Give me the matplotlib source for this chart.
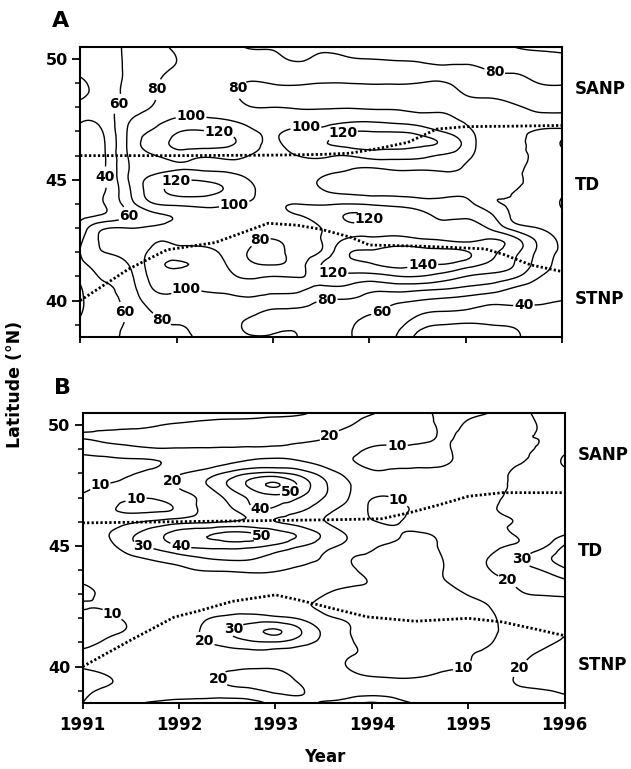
import numpy as np
import matplotlib
matplotlib.use("Agg")
import matplotlib.pyplot as plt
from matplotlib.tri import Triangulation, UniformTriRefiner
from matplotlib.ticker import MultipleLocator

plt.rcParams['font.family'] = 'DejaVu Sans'
plt.rcParams['font.weight'] = 'bold'

# grid of the contoured field: years (columns) and latitude (rows, top -> bottom)
years = [1991.0, 1991.25, 1991.5, 1991.75, 1992.0, 1992.25, 1992.5, 1992.75, 1993.0,
         1993.25, 1993.5, 1993.75, 1994.0, 1994.25, 1994.5, 1994.75, 1995.0,
         1995.25, 1995.5, 1995.75, 1996.0]
lats = [50.5, 50.0, 49.5, 49.0, 48.5, 48.0, 47.5, 47.0, 46.5, 46.0, 45.5, 45.0,
        44.5, 44.0, 43.5, 43.0, 42.5, 42.0, 41.5, 41.0, 40.5, 40.0, 39.5, 39.0, 38.5]

# panel A, one list per year column
panel_a_cols = [
    [48, 46, 44, 36, 37, 44, 42, 35, 30, 28, 27, 27, 27, 29, 35, 46, 56, 60, 55, 45, 38, 36, 38, 45, 50],
    [54, 53, 52, 50, 50, 52, 48, 42, 39, 38, 38, 38, 39, 40, 44, 78, 84, 80, 68, 62, 57, 55, 55, 57, 58],
    [63, 63, 63, 64, 65, 67, 77, 82, 83, 81, 79, 80, 76, 70, 60, 80, 88, 86, 80, 74, 70, 66, 62, 62, 63],
    [74, 74, 75, 77, 78, 81, 92, 102, 110, 98, 92, 106, 110, 98, 74, 84, 98, 104, 110, 106, 100, 90, 80, 76, 74],
    [82, 80, 82, 86, 88, 92, 102, 118, 124, 110, 98, 118, 125, 104, 82, 88, 98, 108, 122, 110, 102, 92, 84, 80, 77],
    [86, 86, 87, 88, 90, 93, 103, 122, 128, 104, 96, 118, 126, 106, 90, 90, 96, 106, 116, 108, 101, 93, 86, 83, 82],
    [86, 86, 87, 86, 86, 90, 100, 118, 124, 106, 96, 112, 118, 103, 92, 90, 92, 96, 101, 104, 102, 95, 86, 84, 83],
    [79, 84, 84, 79, 75, 81, 92, 105, 110, 100, 94, 100, 104, 98, 90, 88, 84, 79, 84, 98, 103, 97, 84, 78, 81],
    [78, 84, 86, 81, 72, 80, 88, 97, 97, 94, 92, 92, 93, 97, 96, 90, 79, 74, 79, 100, 103, 93, 76, 76, 81],
    [72, 78, 86, 82, 72, 78, 92, 104, 110, 100, 90, 86, 90, 100, 99, 92, 88, 86, 90, 99, 103, 90, 76, 77, 80],
    [74, 84, 86, 80, 72, 78, 92, 106, 118, 104, 88, 79, 82, 98, 108, 100, 100, 102, 120, 108, 97, 80, 74, 72, 74],
    [72, 82, 86, 80, 72, 79, 94, 118, 126, 100, 83, 72, 77, 100, 121, 114, 122, 136, 134, 114, 96, 78, 70, 66, 66],
    [70, 80, 86, 81, 72, 78, 95, 120, 127, 108, 80, 68, 74, 98, 120, 114, 126, 142, 138, 112, 86, 72, 62, 52, 48],
    [70, 79, 85, 81, 72, 78, 92, 119, 127, 108, 84, 68, 72, 96, 108, 112, 128, 148, 146, 118, 88, 64, 56, 48, 42],
    [68, 78, 84, 80, 72, 76, 88, 114, 124, 106, 84, 68, 70, 92, 104, 108, 124, 148, 142, 120, 86, 60, 44, 28, 16],
    [66, 76, 82, 79, 72, 76, 84, 100, 118, 98, 84, 70, 72, 88, 98, 104, 120, 146, 140, 112, 82, 56, 38, 20, 14],
    [70, 76, 84, 84, 80, 74, 77, 86, 94, 86, 78, 74, 76, 86, 98, 106, 116, 142, 130, 100, 76, 52, 36, 18, 12],
    [70, 76, 80, 86, 82, 74, 70, 68, 66, 66, 66, 64, 64, 66, 85, 98, 122, 126, 116, 94, 70, 46, 32, 20, 16],
    [60, 72, 79, 84, 84, 78, 70, 64, 61, 63, 62, 61, 60, 59, 57, 72, 108, 106, 100, 84, 58, 44, 33, 22, 18],
    [56, 68, 76, 80, 84, 82, 74, 58, 55, 56, 56, 56, 55, 54, 56, 60, 76, 76, 72, 62, 50, 42, 36, 30, 28],
    [56, 64, 72, 79, 84, 83, 74, 54, 38, 50, 54, 52, 44, 38, 46, 52, 56, 56, 54, 50, 45, 40, 36, 33, 32],
]

# panel B, one list per latitude row (top -> bottom)
panel_b_rows = [
    [15, 15, 15, 15, 15, 16, 16, 17, 18, 19, 22, 23, 21, 15, 12, 8, 8, 10.5, 16, 22, 24],
    [16, 17, 18, 19.5, 21, 22, 23, 23, 23, 23, 22, 20.5, 16, 12, 12, 9, 11, 14, 17, 20.5, 23],
    [20.5, 22, 23, 23, 24, 24, 24, 24, 23, 22, 20.5, 17, 14, 13, 12, 9.5, 12, 15, 19, 20.2, 23],
    [13, 15, 17, 19, 19, 19, 19, 19, 19, 18, 16, 13, 9, 8, 8, 9, 13, 16, 18, 21, 27],
    [8, 8.5, 9, 9.5, 12.5, 15, 18, 21, 22, 20.5, 16, 11, 8, 7, 8, 9, 13, 16, 19, 23, 32],
    [7, 8, 9.5, 13, 19, 24, 32, 40, 42, 36, 26, 17, 11.5, 11.5, 11.5, 12, 14, 17, 21, 22, 26],
    [8, 10.5, 12, 16, 21, 28, 40, 53, 61, 48, 32, 21, 15, 12, 13, 14, 15, 18, 21, 23, 25],
    [11, 12, 11, 11, 16, 22, 32, 42, 46, 40, 30, 20.5, 10.5, 10.5, 13, 15, 16, 18.5, 22, 24, 25],
    [12, 11, 8.5, 8.5, 12, 22, 27, 38, 38, 32, 24, 16, 9, 8, 12, 15, 17, 19.5, 22, 24, 25],
    [12, 14, 18, 22, 26, 28, 30, 32, 30, 26, 20.5, 14, 10.5, 9.5, 13, 15, 17, 19, 20.2, 23, 26],
    [12, 19, 28, 36, 44, 48, 52, 51, 45, 38, 28, 19, 13, 10.5, 9.5, 12, 15, 18, 20.5, 24, 29],
    [11, 16, 27, 33, 40, 43, 44, 43, 38, 31, 24, 17, 11, 9, 8, 11, 14, 18, 21, 27, 41],
    [11, 13, 18, 22, 26, 30, 32, 31, 27, 23, 19, 11, 9, 7, 6, 10.5, 16, 21, 28, 36, 45],
    [11, 12, 14, 16, 18, 20.5, 21, 22, 21, 18, 15, 11.5, 8, 6, 6, 10.2, 15, 20.5, 25, 30, 38],
    [10.5, 12, 13, 13, 14, 14, 15, 15, 14, 13, 12, 11, 9.5, 6, 6, 9.5, 13, 17, 21, 25, 28],
    [8.5, 11, 12, 12, 12, 12, 12, 12, 11, 11, 10.2, 8, 7, 6, 6, 7, 10.3, 13, 18.5, 20.5, 21],
    [10.5, 10.5, 12, 13, 14, 15, 16, 16, 14, 11, 9, 6, 5, 5, 5, 6, 8, 10.5, 15, 17, 19],
    [8, 9, 11, 13, 15, 19, 22, 24, 23, 19, 12, 9, 6, 5, 5, 5, 7, 9.5, 13, 16, 17],
    [8, 9, 10.5, 13, 16, 21, 29, 36, 41, 31, 18, 10.5, 7, 5, 5, 5, 7, 9.5, 12, 16, 19],
    [9, 10.5, 12, 13, 15, 19, 24, 28, 29, 24, 17, 11, 8, 6, 6, 6, 7.5, 10, 14, 18, 21],
    [11, 12, 13, 13, 14, 15, 16, 17, 17, 16, 14, 10.5, 9, 7, 7, 7, 9.5, 12, 17, 21, 24],
    [10.5, 12, 13, 13, 14, 16, 18, 19, 19, 17, 14, 9.8, 8, 7.5, 8, 9, 10.2, 14, 19, 23, 25],
    [8, 9.5, 12, 14, 16, 18, 21, 22, 22, 19, 15, 12, 10.5, 10.2, 10.5, 12, 14, 17, 20.5, 23, 23],
    [9, 11, 13, 15, 17, 18, 19, 19.5, 20.5, 20.5, 17, 15, 15, 15, 15, 16, 17, 18, 19, 19.5, 21],
    [10, 13, 18, 21, 22, 22, 22, 21, 19, 18, 20.5, 24, 31, 24, 19, 17, 17, 18, 18.5, 18, 17],
]

levels_a = [20, 40, 60, 80, 100, 120, 140]
levels_b = [10, 20, 30, 40, 50, 60]

# dotted front lines
front_a_upper_yr = [1991, 1992, 1993, 1993.5, 1993.8, 1994.1, 1994.4, 1994.7, 1995, 1995.5, 1996]
front_a_upper_lat = [46.0, 46.0, 46.02, 46.05, 46.1, 46.3, 46.55, 47.1, 47.2, 47.22, 47.25]
front_a_lower_yr = [1991, 1991.5, 1991.9, 1992.4, 1992.95, 1993.25, 1993.5, 1993.8, 1994.0,
                    1994.55, 1995.2, 1995.4, 1995.67, 1996]
front_a_lower_lat = [40.0, 41.3, 42.1, 42.4, 43.2, 43.12, 42.95, 42.63, 42.3, 42.25, 42.14,
                     41.9, 41.48, 41.2]
front_b_upper_yr = [1991, 1992, 1993, 1993.6, 1994.1, 1994.4, 1994.7, 1995.0, 1995.35, 1996]
front_b_upper_lat = [45.95, 46.0, 46.05, 46.08, 46.12, 46.38, 46.7, 47.05, 47.2, 47.2]
front_b_lower_yr = [1991, 1991.5, 1991.95, 1992.2, 1992.55, 1993.0, 1993.25, 1993.6, 1993.95,
                    1994.45, 1995.0, 1995.35, 1995.7, 1996]
front_b_lower_lat = [40.0, 41.1, 42.05, 42.3, 42.7, 42.97, 42.75, 42.4, 42.06, 41.88, 42.0,
                     41.85, 41.55, 41.28]

zones = ['SANP', 'TD', 'STNP']
zone_lat = [48.75, 44.8, 40.05]

# where the contour numbers sit
label_pos_a = [(1991.37, 48.2), (1991.85, 48.7), (1992.56, 48.9), (1995.3, 49.5),
               (1992.15, 47.55), (1992.43, 46.67), (1993.34, 47.04), (1993.73, 46.8),
               (1991.22, 45.1), (1992.0, 44.75), (1992.6, 43.95), (1991.57, 43.45),
               (1994.05, 43.2), (1992.9, 42.2), (1993.63, 41.4), (1994.55, 41.6),
               (1992.1, 40.4), (1993.56, 40.0), (1995.6, 40.0), (1991.43, 39.5),
               (1991.86, 39.3), (1994.13, 39.5)]
label_pos_b = [(1993.58, 49.4), (1994.26, 49.1), (1991.18, 47.5), (1991.87, 47.65),
               (1991.56, 46.8), (1993.15, 47.25), (1992.84, 46.6), (1994.29, 47.0),
               (1991.64, 45.2), (1992.03, 45.25), (1992.87, 45.47), (1995.5, 44.4),
               (1995.4, 43.5), (1991.31, 42.2), (1992.56, 41.6), (1992.29, 41.2),
               (1994.94, 40.06), (1992.35, 39.5), (1995.56, 39.85)]


def smooth_tri(z):
    # grid triangles in pixel-like units, then refined by matplotlib's cubic interpolator
    yy, xx = np.meshgrid(lats, years, indexing='ij')
    u = (xx - 1991.0) * 4.0
    v = yy - 38.5
    ny, nx = z.shape
    idx = np.arange(ny * nx).reshape(ny, nx)
    a = idx[:-1, :-1].ravel()
    b = idx[:-1, 1:].ravel()
    c = idx[1:, :-1].ravel()
    d = idx[1:, 1:].ravel()
    tris = np.concatenate([np.stack([a, b, d], 1), np.stack([a, d, c], 1)])
    tri = Triangulation(u.ravel(), v.ravel(), tris)
    tri_f, z_f = UniformTriRefiner(tri).refine_field(z.ravel(), subdiv=3)
    tri_out = Triangulation(1991.0 + tri_f.x / 4.0, 38.5 + tri_f.y, tri_f.triangles)
    return tri_out, z_f


def panel(ax, z, levels, labels, upper, lower, show_years):
    ax.set_xlim(1991, 1996)
    ax.set_ylim(38.5, 50.5)
    tri, zf = smooth_tri(z)
    cs = ax.tricontour(tri, zf, levels=levels, colors='k', linewidths=1.0)
    texts = ax.clabel(cs, fmt='%d', fontsize=10, inline=True, inline_spacing=1,
                      manual=labels)
    for t in texts:
        t.set_rotation(0)
        t.set_fontweight('bold')
    for yr, lat in (upper, lower):
        ax.plot(yr, lat, color='k', lw=2.0, linestyle=(0, (0.8, 0.8)))
    for name, lat in zip(zones, zone_lat):
        ax.text(1.027, lat, name, transform=ax.get_yaxis_transform(), fontsize=12,
                fontweight='bold', va='center', ha='left')
    ax.set_yticks([40, 45, 50])
    ax.yaxis.set_minor_locator(MultipleLocator(1))
    ax.set_xticks([1991, 1992, 1993, 1994, 1995, 1996])
    ax.tick_params(axis='y', which='major', length=6, width=1.3, direction='out',
                   labelsize=11.5, pad=3)
    ax.tick_params(axis='y', which='minor', length=3.5, width=1.1, direction='out')
    ax.tick_params(axis='x', which='major', length=4.5, width=1.3, direction='out',
                   labelsize=12, pad=5, labelbottom=show_years)
    for s in ax.spines.values():
        s.set_linewidth(1.5)
    for t in ax.get_xticklabels() + ax.get_yticklabels():
        t.set_fontweight('bold')


fig = plt.figure(figsize=(6.31, 7.69), dpi=100)
ax_a = fig.add_axes([0.127, 0.562, 0.764, 0.377])
ax_b = fig.add_axes([0.131, 0.086, 0.764, 0.377])

za = np.array(panel_a_cols, dtype=float).T
zb = np.array(panel_b_rows, dtype=float)

panel(ax_a, za, levels_a, label_pos_a, (front_a_upper_yr, front_a_upper_lat),
      (front_a_lower_yr, front_a_lower_lat), False)
panel(ax_b, zb, levels_b, label_pos_b, (front_b_upper_yr, front_b_upper_lat),
      (front_b_lower_yr, front_b_lower_lat), True)

fig.text(61 / 631, 1 - 21 / 769, 'A', fontsize=16, fontweight='bold', ha='center', va='center')
fig.text(62 / 631, 1 - 388 / 769, 'B', fontsize=16, fontweight='bold', ha='center', va='center')
fig.text(15 / 631, 1 - 384 / 769, 'Latitude (°N)', rotation=90, fontsize=12.5,
         fontweight='bold', ha='center', va='center')
fig.text(325 / 631, 1 - 757 / 769, 'Year', fontsize=12, fontweight='bold',
         ha='center', va='center')

fig.savefig('out.png', dpi=100)
